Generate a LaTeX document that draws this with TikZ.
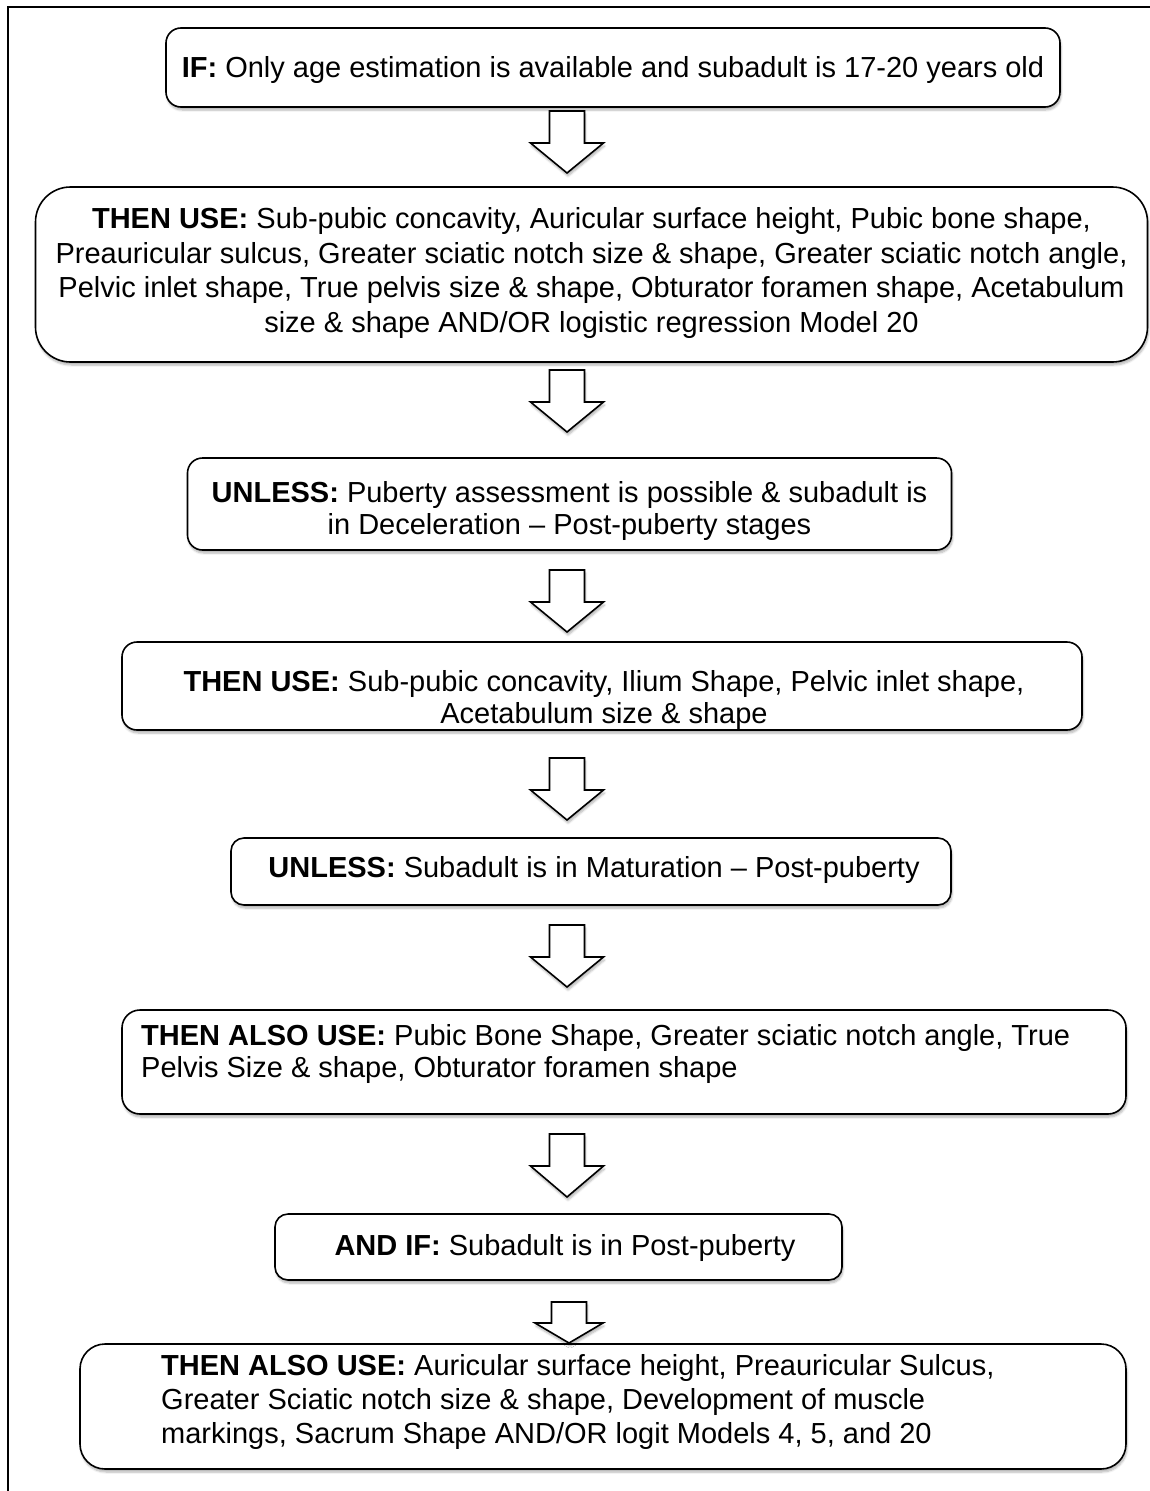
\documentclass[tikz,border=0pt]{standalone}
\usepackage{fontspec}
\setmainfont{Liberation Sans}
\usetikzlibrary{shadows.blur}
\begin{document}
\begin{tikzpicture}[x=1pt,y=-1pt,
  box/.style={draw=black, line width=1.6pt, fill=white, inner sep=0pt,
    blur shadow={shadow xshift=1pt, shadow yshift=-3pt, shadow blur steps=6, shadow opacity=30}},
  txt/.style={font=\fontsize{29}{#1}\selectfont, inner sep=0pt, anchor=base},
  txt/.default=33,
  blk/.style={draw=black, line width=1.6pt, fill=white, line join=miter,
    blur shadow={shadow xshift=1pt, shadow yshift=-3pt, shadow blur steps=6, shadow opacity=30}}]
\useasboundingbox (0,0) rectangle (1150,1491);
% outer frame
\draw[line width=1.8pt] (8,1491) -- (8,7) -- (1150,7);
\newcommand\blkarrow[5]{% x, top, head start, tip, half head width
  \draw[blk] (#1-17.5,#2) -- (#1+17.5,#2) -- (#1+17.5,#3) -- (#1+#5,#3) -- (#1,#4) -- (#1-#5,#3) -- (#1-17.5,#3) -- cycle;}
% boxes
\node[box, rounded corners=15pt, minimum width=894, minimum height=79] (b1) at (613,67.5) {};
\node[box, rounded corners=35pt, minimum width=1112, minimum height=175] (b2) at (591.5,274.5) {};
\node[box, rounded corners=15pt, minimum width=764, minimum height=92] (b3) at (569.5,504) {};
\node[box, rounded corners=15pt, minimum width=960, minimum height=88] (b4) at (602,686) {};
\node[box, rounded corners=13pt, minimum width=720, minimum height=67] (b5) at (591,871.5) {};
\node[box, rounded corners=18pt, minimum width=1004, minimum height=104] (b6) at (624,1062) {};
\node[box, rounded corners=13pt, minimum width=567, minimum height=66] (b7) at (558.5,1247) {};
\node[box, rounded corners=25pt, minimum width=1046, minimum height=125] (b8) at (603,1406.5) {};
% texts (anchor base = baseline of the last line)
\node[txt] (t1) at (613,77) {\textbf{IF:} Only age estimation is available and subadult is 17-20 years old};
\node[txt=34.7, align=center] (t2) at (591.5,332.5) {\textbf{THEN USE:} Sub-pubic concavity, Auricular surface height, Pubic bone shape,\\Preauricular sulcus, Greater sciatic notch size \& shape, Greater sciatic notch angle,\\Pelvic inlet shape, True pelvis size \& shape, Obturator foramen shape, Acetabulum\\size \& shape AND/OR logistic regression Model 20};
\node[txt=32, align=center] (t3) at (569.5,534) {\textbf{UNLESS:} Puberty assessment is possible \& subadult is\\in Deceleration – Post-puberty stages};
\node[txt=32, align=center] (t4) at (604,723) {\textbf{THEN USE:} Sub-pubic concavity, Ilium Shape, Pelvic inlet shape,\\Acetabulum size \& shape};
\node[txt] (t5) at (594,877) {\textbf{UNLESS:} Subadult is in Maturation – Post-puberty};
\node[txt=32, align=left, anchor=base west] (t6) at (141,1077) {\textbf{THEN ALSO USE:} Pubic Bone Shape, Greater sciatic notch angle, True\\Pelvis Size \& shape, Obturator foramen shape};
\node[txt] (t7) at (565,1255) {\textbf{AND IF:} Subadult is in Post-puberty};
\node[txt=34, align=left, anchor=base west] (t8) at (161,1443) {\textbf{THEN ALSO USE:} Auricular surface height, Preauricular Sulcus,\\Greater Sciatic notch size \& shape, Development of muscle\\markings, Sacrum Shape AND/OR logit Models 4, 5, and 20};
% block arrows
\blkarrow{567}{111}{143}{173}{36.5}
\blkarrow{567}{370}{402}{432}{36.5}
\blkarrow{567}{570}{602}{632}{36.5}
\blkarrow{567}{758}{790}{820}{36.5}
\blkarrow{567}{925}{957}{987}{36.5}
\blkarrow{567}{1134}{1166}{1197}{36.5}
\blkarrow{569}{1302}{1323}{1343}{34}
\end{tikzpicture}
\end{document}
